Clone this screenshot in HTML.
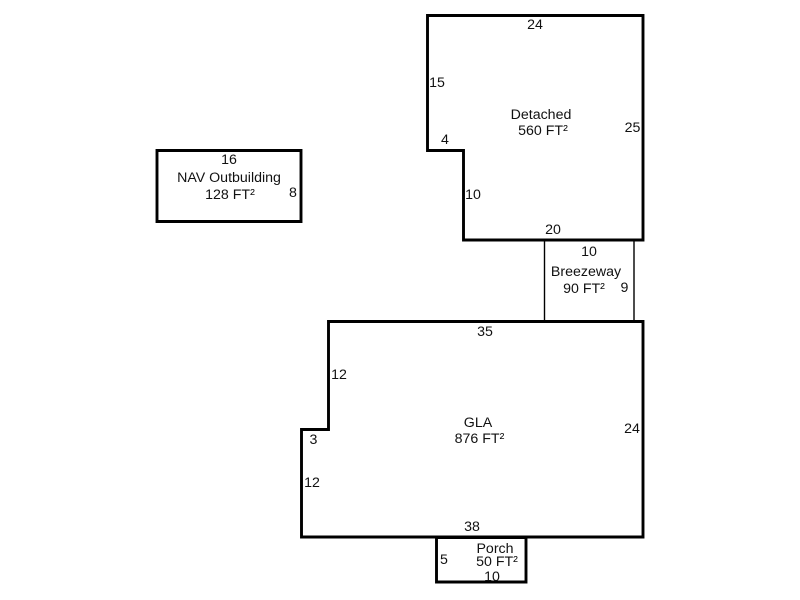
<!DOCTYPE html>
<html>
<head>
<meta charset="utf-8">
<style>
html,body{margin:0;padding:0;background:#fff;width:800px;height:600px;overflow:hidden}
svg{display:block}
text{font-family:"Liberation Sans",Arial,sans-serif;font-size:14.2px;fill:#111;text-anchor:middle}
</style>
</head>
<body>
<svg width="800" height="600" viewBox="0 0 800 600">
<g fill="none" stroke="#000">
<path d="M544.5 240V321M634 240V321" stroke-width="1.4"/>
<path d="M427.5 15.5H643V240H463.5V150.5H427.5Z" stroke-width="2.9"/>
<path d="M157 150.5H301V221.5H157Z" stroke-width="2.9"/>
<path d="M328.5 321.5H643V537H301.5V429.5H328.5Z" stroke-width="2.9"/>
<path d="M436.5 537.5H526V582H436.5Z" stroke-width="2.9"/>
</g>
<text x="535" y="29">24</text>
<text x="437" y="87">15</text>
<text x="445" y="144">4</text>
<text x="473" y="199">10</text>
<text x="632.5" y="132">25</text>
<text x="553" y="234">20</text>
<text x="541" y="119">Detached</text>
<text x="543" y="135">560 FT²</text>
<text x="229" y="164">16</text>
<text x="229" y="182">NAV Outbuilding</text>
<text x="230" y="199">128 FT²</text>
<text x="293" y="197">8</text>
<text x="589" y="256">10</text>
<text x="586" y="276">Breezeway</text>
<text x="584" y="293">90 FT²</text>
<text x="624.5" y="292">9</text>
<text x="485" y="336">35</text>
<text x="339" y="379">12</text>
<text x="478" y="427">GLA</text>
<text x="479.5" y="443">876 FT²</text>
<text x="632" y="433">24</text>
<text x="313.5" y="444">3</text>
<text x="312" y="487">12</text>
<text x="472" y="531">38</text>
<text x="495" y="553">Porch</text>
<text x="497" y="566">50 FT²</text>
<text x="444" y="564">5</text>
<text x="492" y="581">10</text>
</svg>
</body>
</html>
